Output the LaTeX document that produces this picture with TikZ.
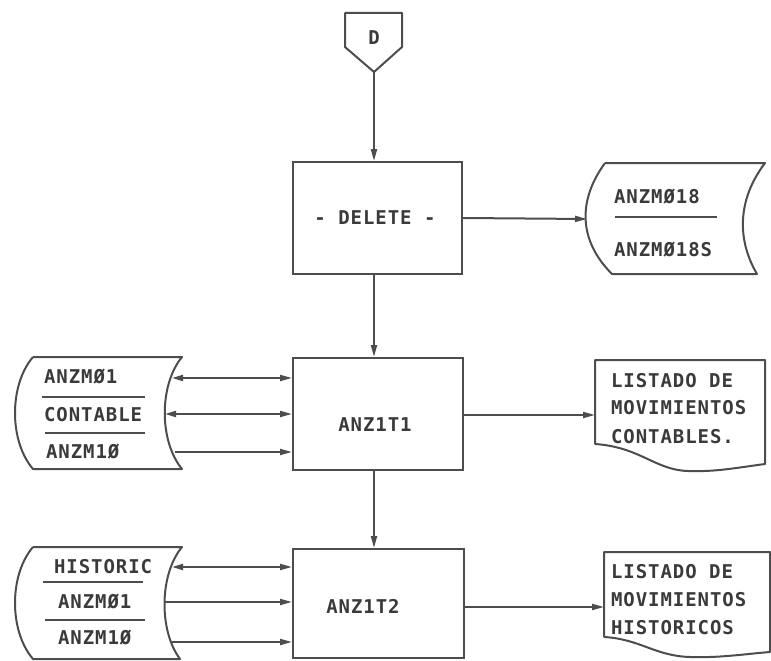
\documentclass[tikz,border=0pt]{standalone}
\usepackage{fontspec}
\newfontfamily\plotfont[LetterSpace=5]{DejaVu Sans Mono}
\usetikzlibrary{arrows.meta}
\definecolor{ink}{HTML}{4D4D4D}
\definecolor{txt}{HTML}{3A3A3A}
\begin{document}
\begin{tikzpicture}[x=1pt,y=-1pt,
  line width=2pt,
  lbl/.style={font=\plotfont\bfseries\fontsize{19}{19}\selectfont, text=txt, inner sep=0pt, text height=13.9pt, text depth=0pt},
  procbox/.style={draw=ink, line width=2pt, rectangle, inner sep=0pt},
  flow/.style={draw=ink, -{Triangle[length=12pt,width=6pt]}},
  both/.style={draw=ink, {Triangle[length=11pt,width=6pt]}-{Triangle[length=12pt,width=6pt]}},
  shp/.style={draw=ink, line width=2pt, line join=round}]
\useasboundingbox (0,0) rectangle (771,661);

% off-page connector D
\draw[shp] (345,13) -- (402,13) -- (402,47) -- (374,72) -- (345,47) -- cycle;
\node[lbl] (dlab) at (374,38) {D};
\coordinate (dtip) at (374,72);

% process boxes
\node[procbox, minimum width=169pt, minimum height=112pt] (del) at (377.5,218) {};
\node[lbl] (deltxt) at (375,218) {- DELETE -};
\node[procbox, minimum width=170pt, minimum height=112pt] (t1) at (378,414) {};
\node[lbl] (t1txt) at (375,425) {ANZ1T1};
\node[procbox, minimum width=171pt, minimum height=109pt] (t2) at (378.5,603.5) {};
\node[lbl] (t2txt) at (363,607) {ANZ1T2};

% storage ANZM018 / ANZM018S
\draw[shp] (605,163) -- (765,163) .. controls (737,200) and (737,240) .. (757,274) -- (612,274) .. controls (578,240) and (578,200) .. (605,163);
\coordinate (s0in) at (587,219);
\node[lbl, anchor=west] (s0a) at (613,197) {ANZMØ18};
\draw[shp] (615,217) -- (717,217);
\node[lbl, anchor=west] (s0b) at (613,250) {ANZMØ18S};

% storage left 1
\draw[shp] (33,357) -- (182,357) .. controls (159,385) and (159,441) .. (182,469) -- (33,469) .. controls (9,441) and (9,385) .. (33,357);
\node[lbl, anchor=west] (s1a) at (43,377) {ANZMØ1};
\draw[shp] (42,397) -- (145,397);
\node[lbl, anchor=west] (s1b) at (43,415) {CONTABLE};
\draw[shp] (45,433) -- (145,433);
\node[lbl, anchor=west] (s1c) at (45,452) {ANZM1Ø};
\coordinate (s1r1) at (172,378);
\coordinate (s1r2) at (165,414);
\coordinate (s1r3) at (175,452);

% storage left 2
\draw[shp] (33,547) -- (182,547) .. controls (159,575) and (159,631) .. (180,659) -- (33,659) .. controls (9,631) and (9,575) .. (33,547);
\node[lbl, anchor=west] (s2a) at (53,567) {HISTORIC};
\draw[shp] (43,582) -- (143,582);
\node[lbl, anchor=west] (s2b) at (57,602) {ANZMØ1};
\draw[shp] (45,620) -- (145,620);
\node[lbl, anchor=west] (s2c) at (57,638) {ANZM1Ø};
\coordinate (s2r1) at (172,567);
\coordinate (s2r2) at (165,602);
\coordinate (s2r3) at (172,642);

% documents
\draw[shp] (595,444) -- (595,360) -- (765,360) -- (765,464) .. controls (735,468) and (715,472) .. (688,471) .. controls (655,470) and (640,447) .. (595,444);
\coordinate (d1in) at (595,415);
\node[lbl, anchor=west] (d1a) at (610,381) {LISTADO DE};
\node[lbl, anchor=west] (d1b) at (610,408) {MOVIMIENTOS};
\node[lbl, anchor=west] (d1c) at (610,437) {CONTABLES.};

\draw[shp] (604,637) -- (604,552) -- (770,552) -- (770,652) .. controls (745,654) and (720,658) .. (690,657) .. controls (655,656) and (640,639) .. (604,637);
\coordinate (d2in) at (604,607);
\node[lbl, anchor=west] (d2a) at (610,572) {LISTADO DE};
\node[lbl, anchor=west] (d2b) at (610,600) {MOVIMIENTOS};
\node[lbl, anchor=west] (d2c) at (610,628) {HISTORICOS};

% connectors
\draw[flow] (dtip) -- (dtip |- del.north);
\draw[flow] (del.east) -- (s0in);
\draw[flow] (dtip |- del.south) -- (dtip |- t1.north);
\draw[flow] (dtip |- t1.south) -- (dtip |- t2.north);
\draw[flow] (t1.east |- d1in) -- (d1in);
\draw[flow] (t2.east |- d2in) -- (d2in);

\draw[both] (s1r1) -- (s1r1 -| t1.west);
\draw[both] (s1r2) -- (s1r2 -| t1.west);
\draw[flow] (s1r3) -- (s1r3 -| t1.west);

\draw[both] (s2r1) -- (s2r1 -| t2.west);
\draw[flow] (s2r2) -- (s2r2 -| t2.west);
\draw[flow] (s2r3) -- (s2r3 -| t2.west);
\end{tikzpicture}
\end{document}
